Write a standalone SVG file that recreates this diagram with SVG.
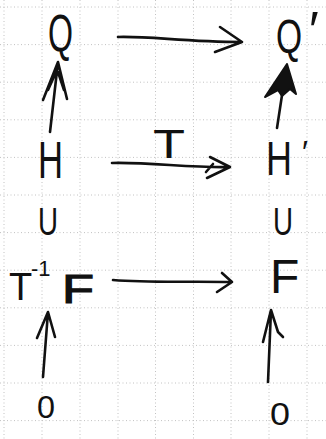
<svg xmlns="http://www.w3.org/2000/svg" width="326" height="439" viewBox="0 0 326 439">
<style>
.grid line{stroke:#c2c2c2;stroke-width:1;stroke-dasharray:1 2.5}
.t{font-family:"Liberation Sans",Arial,sans-serif;fill:#111}
.c{fill:none;stroke:#111;stroke-width:2.6;stroke-linecap:round;stroke-linejoin:round}
</style>
<rect width="326" height="439" fill="#fff"/>
<g class="grid">
<line x1="4" y1="0" x2="4" y2="439"/><line x1="42" y1="0" x2="42" y2="439"/><line x1="80" y1="0" x2="80" y2="439"/><line x1="118" y1="0" x2="118" y2="439"/><line x1="155.5" y1="0" x2="155.5" y2="439"/><line x1="193.5" y1="0" x2="193.5" y2="439"/><line x1="231" y1="0" x2="231" y2="439"/><line x1="269" y1="0" x2="269" y2="439"/><line x1="307" y1="0" x2="307" y2="439"/>
<line x1="0" y1="7" x2="326" y2="7"/><line x1="0" y1="44.6" x2="326" y2="44.6"/><line x1="0" y1="82.2" x2="326" y2="82.2"/><line x1="0" y1="119.8" x2="326" y2="119.8"/><line x1="0" y1="157.4" x2="326" y2="157.4"/><line x1="0" y1="195" x2="326" y2="195"/><line x1="0" y1="232.6" x2="326" y2="232.6"/><line x1="0" y1="270.2" x2="326" y2="270.2"/><line x1="0" y1="307.8" x2="326" y2="307.8"/><line x1="0" y1="345.4" x2="326" y2="345.4"/><line x1="0" y1="383" x2="326" y2="383"/><line x1="0" y1="420.6" x2="326" y2="420.6"/>
</g>
<g id="node-Q"><text class="t" x="48" y="51" font-size="52" textLength="25" lengthAdjust="spacingAndGlyphs">Q</text></g>
<g id="node-Qp"><text class="t" transform="translate(276,53) scale(0.7,1)" font-size="48">Q</text><text class="t" x="309" y="48" font-size="52">′</text></g>
<g id="node-H"><text class="t" x="38" y="178" font-size="52" textLength="25" lengthAdjust="spacingAndGlyphs">H</text></g>
<g id="node-Hp"><text class="t" x="266" y="175" font-size="49" textLength="26" lengthAdjust="spacingAndGlyphs">H</text><text class="t" x="302" y="163" font-size="32">′</text></g>
<g id="node-U1"><text class="t" x="38" y="235" font-size="39" textLength="20" lengthAdjust="spacingAndGlyphs">U</text></g>
<g id="node-U2"><text class="t" x="273" y="235" font-size="38" textLength="20" lengthAdjust="spacingAndGlyphs">U</text></g>
<g id="node-TinvF"><text class="t" x="9" y="300" font-size="38">T<tspan x="31" y="276" font-size="22">-1</tspan><tspan x="62" y="303" font-size="41" stroke="#111" stroke-width="1.2" textLength="32" lengthAdjust="spacingAndGlyphs">F</tspan></text></g>
<g id="node-F"><text class="t" x="270" y="293" font-size="48">F</text></g>
<g id="node-0a"><text class="t" x="37" y="418" font-size="32" textLength="18" lengthAdjust="spacingAndGlyphs">0</text></g>
<g id="node-0b"><text class="t" x="270" y="425" font-size="31" textLength="20" lengthAdjust="spacingAndGlyphs">0</text></g>
<g id="connectors">
<path class="c" d="M118,37 C150,36 185,42 242,42 M220,27 L242,42 L215,52"/>
<path class="c" d="M112,163 C150,162 190,168 230,167 M210,157 L230,167 L207,178 M213,164 L206,172"/>
<text class="t" x="153" y="158" font-size="40" textLength="32" lengthAdjust="spacingAndGlyphs">T</text>
<path class="c" stroke-width="3.6" d="M113,280 C150,283 190,281 232,282 M222,273 L232,282 L217,292"/>
<path class="c" d="M50,132 L58,62 M43,100 L58,62 L67,99 M48,90 L57,70 M64,90 L58,72"/>
<path class="c" stroke-width="6" d="M277,128 L284,82"/>
<path fill="#111" stroke="#111" stroke-width="2" stroke-linejoin="round" d="M287,64 L265,97 L278,90 L282,96 L290,89 L296,94 Z"/>
<path class="c" d="M43,377 L48,312 M37,338 L48,312 L55,337"/>
<path class="c" stroke-width="3" d="M268,382 L271,310 M263,342 L271,310 L278,332 L283,337"/>
</g>
</svg>
